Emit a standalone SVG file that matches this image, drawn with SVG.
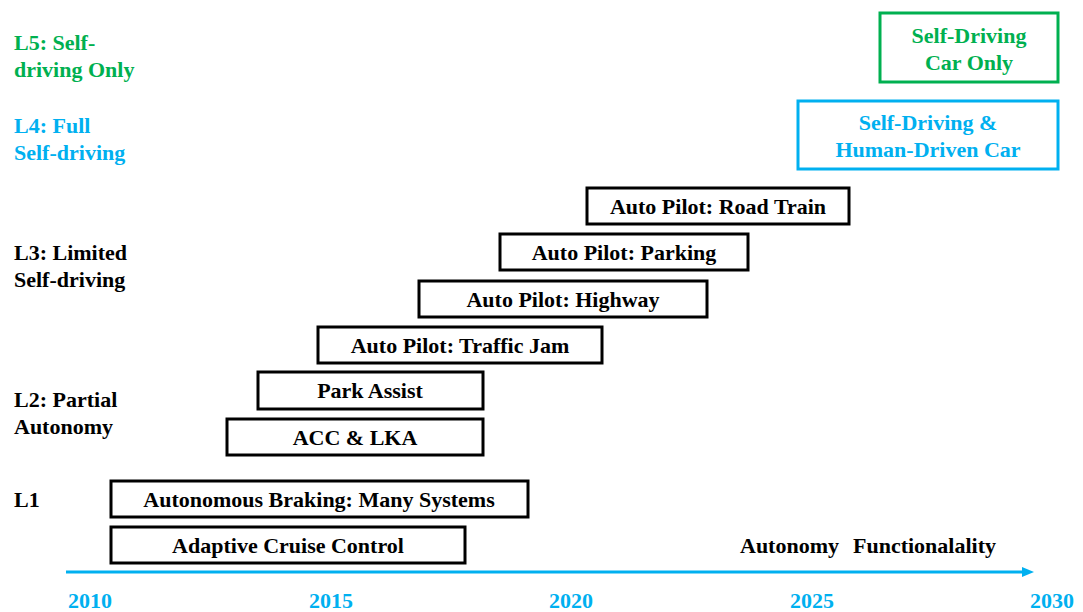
<svg xmlns="http://www.w3.org/2000/svg" width="1083" height="612" viewBox="0 0 1083 612">
  <style>
    text { font-family: "Liberation Serif", "Times New Roman", serif; font-weight: bold; font-size: 22px; }
    .box { fill: #ffffff; stroke: #000000; stroke-width: 3; }
    .lbl { fill: #000000; text-anchor: middle; }
    .green { fill: #00B050; }
    .blue { fill: #00B0F0; }
    .year { fill: #00B0F0; text-anchor: middle; }
  </style>
  <defs>
    <marker id="arrow" markerWidth="12" markerHeight="10" refX="4" refY="5" orient="auto" markerUnits="userSpaceOnUse">
      <path d="M0,0 L12,5 L0,10 z" fill="#00B0F0"/>
    </marker>
  </defs>
  <rect width="1083" height="612" fill="#ffffff"/>

  <!-- level labels -->
  <g id="levels">
    <text class="green" x="14" y="50">L5: Self-</text>
    <text class="green" x="14" y="77">driving Only</text>
    <text class="blue" x="14" y="133">L4: Full</text>
    <text class="blue" x="14" y="160">Self-driving</text>
    <text x="14" y="260">L3: Limited</text>
    <text x="14" y="287">Self-driving</text>
    <text x="14" y="407">L2: Partial</text>
    <text x="14" y="434">Autonomy</text>
    <text x="14" y="507">L1</text>
  </g>

  <!-- features -->
  <g id="self-driving-only">
    <rect x="880" y="13" width="178" height="69" fill="#ffffff" stroke="#00B050" stroke-width="3"/>
    <text class="green" x="969" y="43" text-anchor="middle">Self-Driving</text>
    <text class="green" x="969" y="70" text-anchor="middle">Car Only</text>
  </g>
  <g id="mixed-traffic">
    <rect x="798" y="101" width="260" height="68" fill="#ffffff" stroke="#00B0F0" stroke-width="3"/>
    <text class="blue" x="928" y="130" text-anchor="middle">Self-Driving &amp;</text>
    <text class="blue" x="928" y="157" text-anchor="middle">Human-Driven Car</text>
  </g>
  <g id="road-train">
    <rect class="box" x="587" y="188" width="262" height="36"/>
    <text class="lbl" x="718" y="214">Auto Pilot: Road Train</text>
  </g>
  <g id="parking">
    <rect class="box" x="500" y="234" width="248" height="36"/>
    <text class="lbl" x="624" y="260">Auto Pilot: Parking</text>
  </g>
  <g id="highway">
    <rect class="box" x="419" y="281" width="288" height="36"/>
    <text class="lbl" x="563" y="307">Auto Pilot: Highway</text>
  </g>
  <g id="traffic-jam">
    <rect class="box" x="318" y="327" width="284" height="36"/>
    <text class="lbl" x="460" y="353">Auto Pilot: Traffic Jam</text>
  </g>
  <g id="park-assist">
    <rect class="box" x="258" y="372" width="225" height="37"/>
    <text class="lbl" x="370" y="398">Park Assist</text>
  </g>
  <g id="acc-lka">
    <rect class="box" x="227" y="419" width="256" height="36"/>
    <text class="lbl" x="355" y="445">ACC &amp; LKA</text>
  </g>
  <g id="autonomous-braking">
    <rect class="box" x="111" y="481" width="417" height="36"/>
    <text class="lbl" x="319" y="507">Autonomous Braking: Many Systems</text>
  </g>
  <g id="adaptive-cruise">
    <rect class="box" x="111" y="527" width="354" height="36"/>
    <text class="lbl" x="288" y="553">Adaptive Cruise Control</text>
  </g>

  <!-- timeline axis -->
  <g id="connectors">
    <line x1="66" y1="572" x2="1026" y2="572" stroke="#00B0F0" stroke-width="3" marker-end="url(#arrow)"/>
  </g>
  <g id="axis-labels">
    <text x="740" y="553">Autonomy<tspan x="853">Functionalality</tspan></text>
    <text class="year" x="90" y="608">2010</text>
    <text class="year" x="331" y="608">2015</text>
    <text class="year" x="571" y="608">2020</text>
    <text class="year" x="812" y="608">2025</text>
    <text class="year" x="1052" y="608">2030</text>
  </g>
</svg>
